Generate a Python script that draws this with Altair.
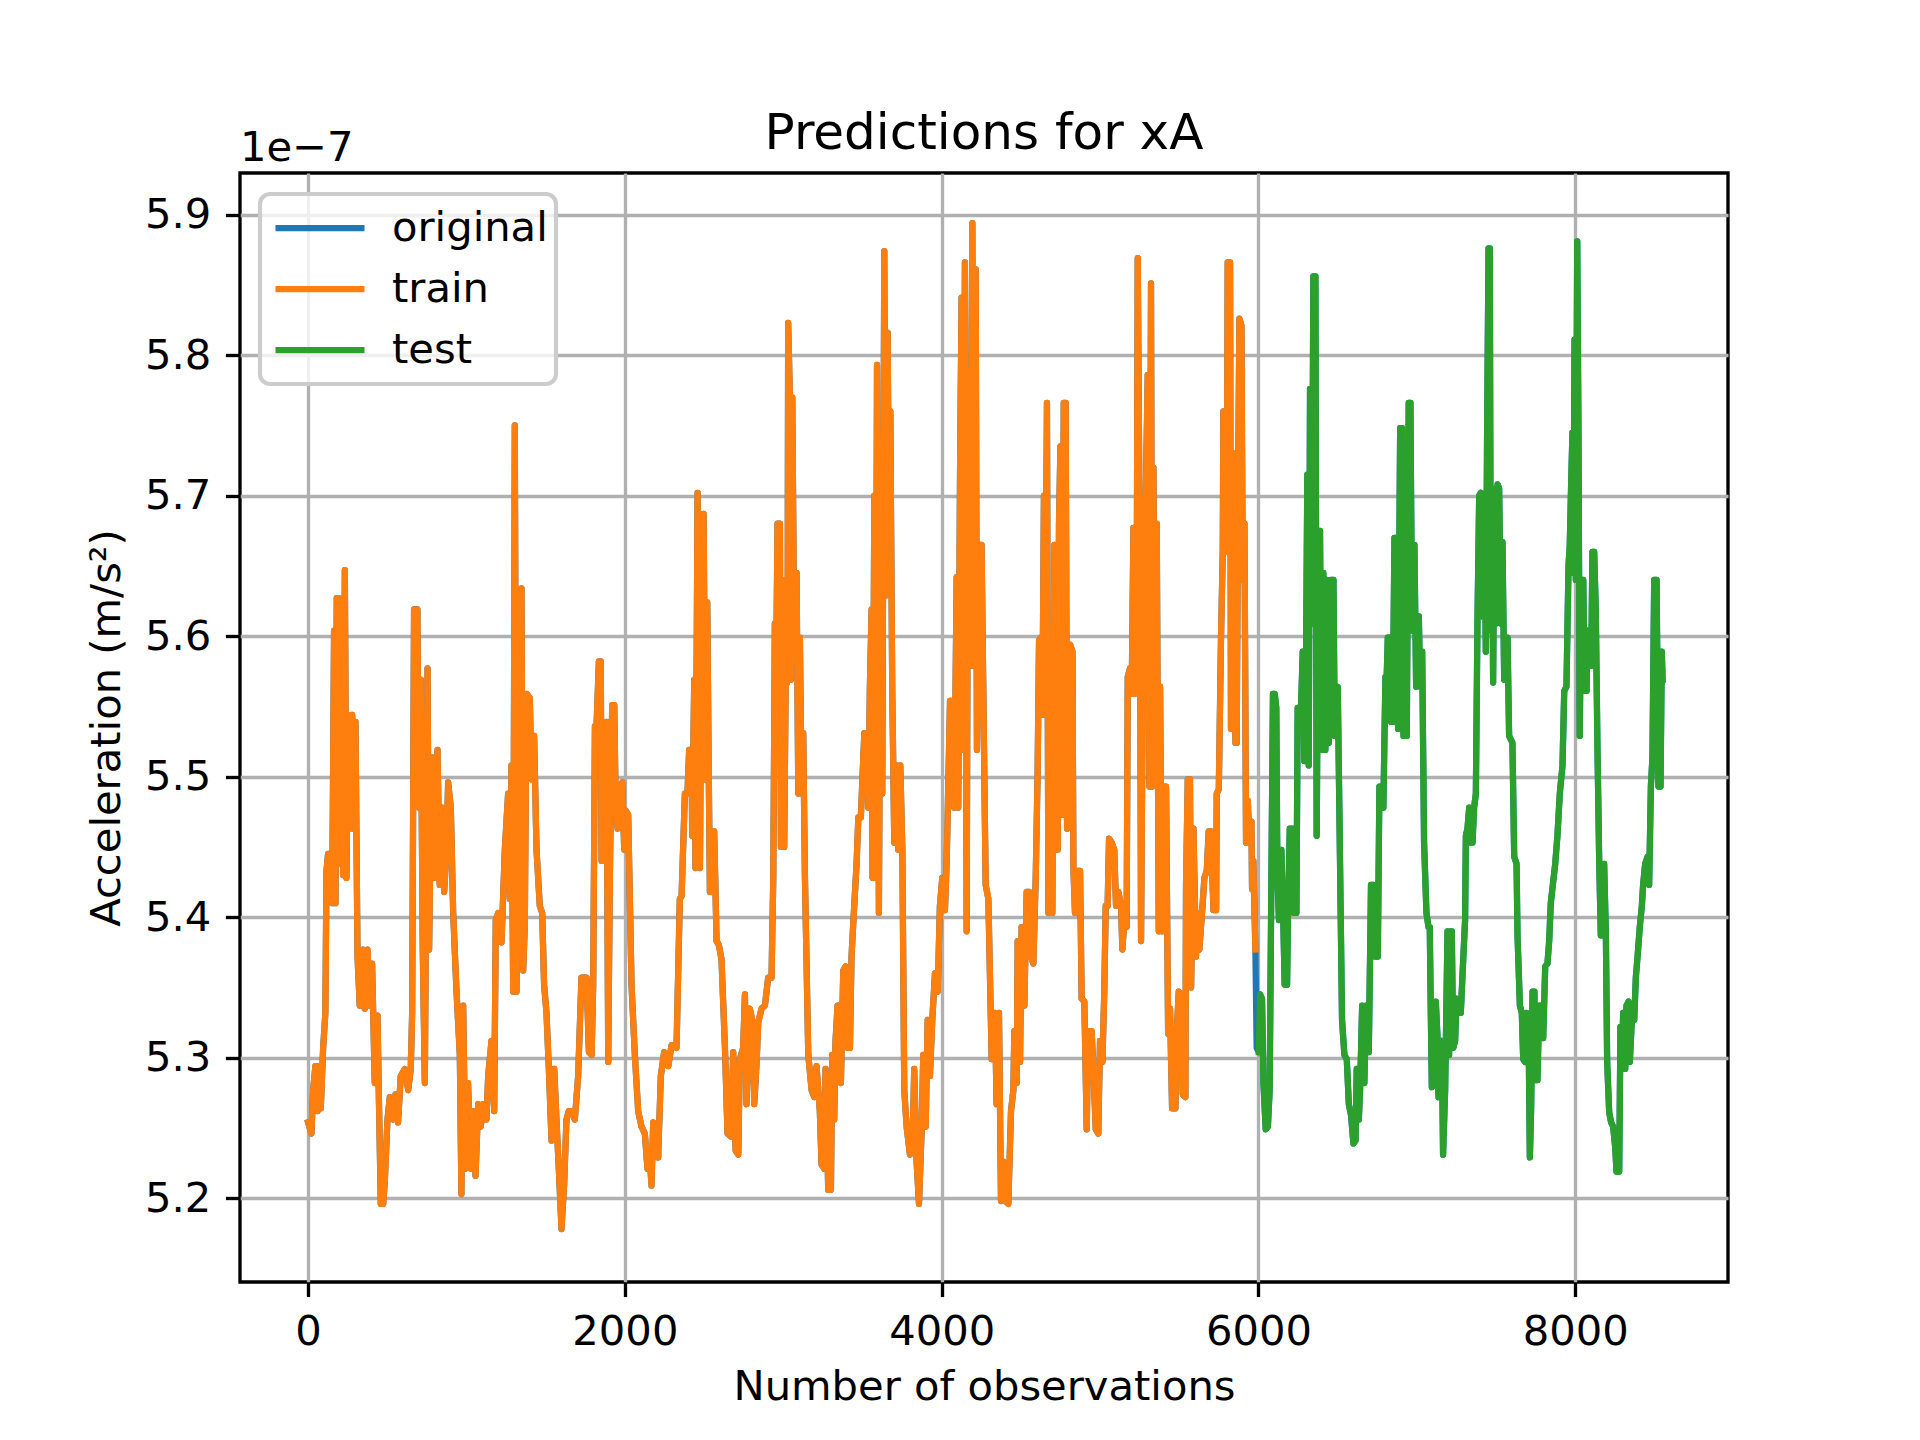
import altair as alt
import pandas as pd

TRAIN_A = [(0,5.254),(21,5.246),(32,5.277),(46,5.294),(59,5.262),(63,5.294),(80,5.264),(95,5.307),(109,5.332),(116,5.433),(126,5.445),(143,5.445),(152,5.410),(164,5.604),(173,5.410),(181,5.627),(194,5.627),(200,5.438),(211,5.549),(221,5.430),(232,5.647),(242,5.428),(253,5.544),(263,5.463),(278,5.544),(290,5.463),(299,5.539),(312,5.372),(326,5.337),(347,5.377),(358,5.335),(375,5.377),(389,5.337),(404,5.367),(421,5.282),(438,5.330),(446,5.277),(459,5.196),(474,5.196),(484,5.211),(501,5.256),(516,5.272),(537,5.256),(552,5.274),(568,5.254),(585,5.287),(610,5.292),(632,5.277),(648,5.292),(657,5.332),(669,5.619),(690,5.619),(699,5.478),(711,5.569),(724,5.377),(737,5.282),(754,5.577),(764,5.377),(779,5.514),(800,5.428),(817,5.519),(831,5.423),(846,5.478),(859,5.418),(874,5.448),(884,5.496),(901,5.478),(916,5.403),(937,5.347),(958,5.302),(968,5.203),(979,5.337),(994,5.221),(1010,5.282),(1027,5.221),(1042,5.262),(1057,5.216),(1074,5.267),(1090,5.251),(1105,5.267),(1126,5.256),(1137,5.287),(1158,5.312),(1175,5.262),(1185,5.398),(1200,5.403),(1221,5.382),(1242,5.448),(1263,5.488),(1274,5.413),(1284,5.508),(1295,5.347),(1305,5.750),(1316,5.347),(1330,5.529),(1347,5.634),(1358,5.362),(1368,5.393),(1379,5.559),(1400,5.556),(1410,5.498),(1427,5.529),(1442,5.448),(1463,5.408),(1478,5.403),(1490,5.352),(1505,5.332),(1520,5.292),(1537,5.241),(1554,5.292),(1568,5.256),(1585,5.216),(1600,5.178),(1617,5.211),(1631,5.256),(1646,5.262),(1663,5.262),(1684,5.256),(1705,5.287),(1726,5.357),(1747,5.357)]

TRAIN_B = [(1758,5.357),(1773,5.304),(1790,5.302),(1800,5.352),(1811,5.536),(1821,5.536),(1836,5.582),(1848,5.582),(1853,5.440),(1863,5.539),(1874,5.440),(1884,5.539),(1895,5.297),(1905,5.428),(1920,5.551),(1933,5.551),(1941,5.488),(1954,5.463),(1968,5.493),(1983,5.496),(1996,5.448),(2004,5.476),(2021,5.473),(2042,5.352),(2063,5.302),(2084,5.262),(2105,5.251),(2126,5.246),(2143,5.221),(2158,5.229),(2168,5.209),(2179,5.254),(2194,5.251),(2210,5.229),(2227,5.287),(2248,5.304),(2274,5.294),(2295,5.309),(2326,5.307),(2347,5.413),(2358,5.415),(2379,5.488),(2395,5.488),(2406,5.519),(2421,5.519),(2425,5.458),(2438,5.569),(2446,5.435),(2459,5.702),(2474,5.435),(2484,5.614),(2497,5.687),(2509,5.498),(2520,5.624),(2530,5.498),(2537,5.418),(2552,5.418),(2564,5.461),(2579,5.383),(2594,5.380),(2610,5.370),(2632,5.307),(2648,5.246),(2669,5.244),(2684,5.304),(2699,5.234),(2716,5.231),(2726,5.299),(2747,5.307),(2758,5.345),(2768,5.267),(2779,5.307),(2789,5.335),(2804,5.327),(2817,5.267),(2832,5.297),(2842,5.325),(2863,5.335),(2884,5.337),(2905,5.357),(2926,5.357),(2937,5.428),(2947,5.609),(2958,5.609),(2964,5.680),(2979,5.680),(2985,5.450),(2996,5.640),(3006,5.450),(3015,5.564),(3027,5.569),(3031,5.823),(3042,5.770),(3048,5.569),(3057,5.770),(3069,5.599),(3084,5.645),(3095,5.488),(3105,5.599),(3116,5.488),(3126,5.531),(3137,5.428),(3158,5.302),(3179,5.277),(3196,5.272),(3210,5.294),(3231,5.262),(3242,5.224),(3259,5.221),(3267,5.292),(3284,5.206),(3301,5.206),(3309,5.302),(3322,5.256),(3330,5.312),(3343,5.337),(3358,5.337),(3364,5.282),(3379,5.362),(3394,5.365),(3406,5.307),(3421,5.307),(3431,5.372),(3448,5.408),(3463,5.438),(3474,5.471),(3490,5.471),(3499,5.496),(3512,5.531)]

TRAIN_C = [(3526,5.528),(3537,5.478),(3547,5.564),(3558,5.619),(3564,5.428),(3575,5.700),(3583,5.428),(3592,5.793),(3604,5.403),(3613,5.629),(3625,5.488),(3638,5.874),(3648,5.629),(3659,5.816),(3669,5.650),(3676,5.760),(3688,5.564),(3701,5.453),(3716,5.508),(3726,5.448),(3739,5.508),(3752,5.448),(3764,5.277),(3779,5.251),(3800,5.231),(3815,5.234),(3827,5.292),(3842,5.226),(3857,5.196),(3874,5.249),(3884,5.302),(3899,5.251),(3912,5.327),(3926,5.287),(3941,5.327),(3958,5.360),(3975,5.347),(3989,5.408),(4004,5.428),(4021,5.405),(4032,5.440),(4053,5.554),(4067,5.554),(4080,5.478),(4095,5.642),(4105,5.478),(4116,5.713),(4126,5.841),(4137,5.519),(4147,5.866),(4158,5.390),(4168,5.788),(4179,5.579),(4194,5.894),(4202,5.579),(4215,5.861),(4223,5.519),(4236,5.665),(4252,5.665),(4265,5.544),(4278,5.423),(4295,5.413),(4316,5.299),(4337,5.332),(4347,5.267),(4362,5.332),(4375,5.198),(4389,5.226),(4404,5.198),(4421,5.196),(4438,5.262),(4453,5.277),(4459,5.319),(4474,5.282),(4480,5.383),(4495,5.297),(4505,5.393),(4522,5.337),(4537,5.418),(4552,5.418),(4564,5.372),(4579,5.367),(4594,5.428),(4606,5.503),(4615,5.597),(4628,5.599),(4636,5.544),(4646,5.700),(4653,5.544),(4665,5.766),(4674,5.403),(4684,5.503),(4699,5.403),(4712,5.665),(4720,5.473),(4733,5.448),(4741,5.680),(4750,5.735),(4762,5.473),(4771,5.766),(4783,5.766),(4792,5.463),(4811,5.594),(4826,5.589),(4832,5.435),(4842,5.403),(4859,5.433),(4874,5.433),(4884,5.342),(4901,5.340),(4916,5.249),(4926,5.319),(4947,5.319),(4958,5.292),(4973,5.249),(4989,5.246),(5000,5.312),(5015,5.297),(5027,5.347),(5036,5.408),(5048,5.408),(5057,5.456),(5074,5.453),(5090,5.448),(5101,5.408),(5116,5.418),(5133,5.408),(5141,5.377),(5154,5.398),(5168,5.393),(5175,5.571),(5189,5.577),(5200,5.559),(5211,5.677),(5221,5.559),(5232,5.634),(5238,5.869),(5253,5.634),(5259,5.383),(5274,5.634)]

TRAIN_D = [(5280,5.634),(5301,5.786),(5312,5.493),(5322,5.851),(5329,5.493),(5337,5.720),(5350,5.498),(5358,5.680),(5371,5.390),(5379,5.564),(5392,5.390),(5400,5.493),(5417,5.493),(5430,5.317),(5442,5.335),(5455,5.264),(5476,5.264),(5484,5.317),(5497,5.347),(5512,5.345),(5522,5.274),(5539,5.272),(5543,5.423),(5554,5.498),(5568,5.498),(5575,5.350),(5590,5.463),(5606,5.372),(5617,5.403),(5627,5.377),(5644,5.403),(5659,5.428),(5674,5.433),(5686,5.461),(5701,5.461),(5716,5.405),(5733,5.405),(5737,5.488),(5750,5.491),(5764,5.599),(5775,5.660),(5779,5.760),(5792,5.760),(5800,5.660),(5806,5.866),(5821,5.866),(5827,5.534),(5842,5.730),(5855,5.524),(5863,5.524),(5872,5.710),(5880,5.826),(5893,5.821),(5901,5.640),(5912,5.680),(5922,5.453),(5933,5.483),(5943,5.453),(5956,5.468),(5960,5.420),(5968,5.440),(5981,5.377)]

GAP = [(5989,5.307)]

TEST_A = [(6002,5.304),(6011,5.345),(6023,5.342),(6032,5.282),(6046,5.249),(6060,5.251),(6071,5.277),(6082,5.428),(6092,5.559),(6103,5.559),(6113,5.549),(6120,5.428),(6130,5.398),(6145,5.448),(6157,5.398),(6166,5.352),(6181,5.352),(6187,5.403),(6198,5.463),(6215,5.463),(6223,5.403),(6240,5.403),(6248,5.549),(6269,5.549),(6280,5.589),(6290,5.511),(6301,5.589),(6309,5.715),(6318,5.508),(6326,5.776),(6337,5.609),(6347,5.856),(6360,5.856),(6368,5.458),(6377,5.619),(6389,5.675),(6398,5.519),(6410,5.645),(6423,5.519),(6432,5.640),(6444,5.524),(6459,5.640),(6474,5.640),(6482,5.529),(6490,5.556),(6501,5.564),(6511,5.478),(6528,5.327),(6543,5.302),(6558,5.299),(6571,5.267),(6585,5.259),(6600,5.239),(6613,5.241),(6621,5.292),(6634,5.256),(6642,5.277),(6655,5.337),(6669,5.282),(6680,5.337),(6697,5.304),(6711,5.423),(6726,5.423),(6739,5.372),(6754,5.372),(6764,5.493),(6781,5.493),(6789,5.478),(6802,5.571),(6810,5.571),(6817,5.599),(6832,5.599),(6838,5.539),(6848,5.539),(6859,5.670),(6874,5.670),(6882,5.534),(6895,5.748),(6907,5.748),(6916,5.529),(6928,5.629),(6937,5.529),(6949,5.766),(6960,5.766),(6970,5.604),(6985,5.665),(6996,5.564),(7013,5.614),(7021,5.564),(7034,5.589)]

TEST_B = [(7046,5.453),(7061,5.403),(7074,5.393),(7082,5.393),(7088,5.337),(7095,5.279),(7109,5.282),(7120,5.340),(7130,5.317),(7137,5.272),(7145,5.312),(7158,5.312),(7166,5.231),(7179,5.277),(7187,5.337),(7194,5.390),(7204,5.302),(7211,5.390),(7221,5.390),(7230,5.307),(7242,5.312),(7251,5.342),(7263,5.332),(7278,5.332),(7288,5.357),(7305,5.398),(7310,5.458),(7320,5.463),(7331,5.478),(7341,5.453),(7352,5.453),(7362,5.478),(7373,5.488),(7383,5.609),(7394,5.700),(7404,5.702),(7415,5.614),(7425,5.700),(7436,5.589),(7444,5.745),(7453,5.876),(7461,5.876),(7467,5.604),(7474,5.705),(7482,5.567),(7491,5.705),(7499,5.609),(7510,5.708),(7520,5.705),(7531,5.609),(7541,5.667),(7552,5.569),(7562,5.599),(7573,5.599),(7583,5.529),(7604,5.524),(7615,5.443),(7630,5.438),(7636,5.387),(7651,5.337),(7663,5.332),(7672,5.299),(7684,5.297),(7693,5.332),(7705,5.327),(7714,5.229),(7722,5.264),(7731,5.347),(7743,5.347),(7747,5.284),(7762,5.284),(7773,5.337),(7790,5.337),(7798,5.314),(7811,5.365),(7825,5.367),(7836,5.383),(7846,5.410),(7861,5.425),(7874,5.438),(7888,5.458),(7903,5.488),(7920,5.508),(7931,5.561),(7945,5.564),(7958,5.650),(7966,5.665),(7975,5.710),(7983,5.745),(7989,5.645),(7996,5.811),(8004,5.640),(8013,5.881),(8021,5.743),(8029,5.529),(8038,5.640),(8051,5.640),(8061,5.561),(8072,5.561),(8078,5.604),(8088,5.579),(8101,5.579),(8109,5.660),(8120,5.660),(8130,5.619),(8141,5.519),(8152,5.438),(8162,5.387),(8173,5.387),(8183,5.438),(8194,5.387),(8202,5.297),(8215,5.261),(8227,5.254),(8240,5.251),(8253,5.236),(8261,5.219),(8278,5.219),(8286,5.322),(8295,5.292),(8303,5.332),(8316,5.292),(8324,5.337),(8337,5.340),(8345,5.297),(8358,5.327),(8373,5.327),(8383,5.357),(8394,5.372),(8408,5.393),(8421,5.408),(8429,5.423),(8442,5.438),(8457,5.443),(8467,5.423),(8478,5.493),(8488,5.514),(8499,5.640),(8514,5.640),(8526,5.493),(8539,5.493),(8547,5.589),(8552,5.569)]

SERIES = ["original", "train", "test"]
COLORS = ["#1f77b4", "#ff7f0e", "#2ca02c"]
X_TICKS = [0, 2000, 4000, 6000, 8000]
Y_TICKS = [5.2, 5.3, 5.4, 5.5, 5.6, 5.7, 5.8, 5.9]

train = TRAIN_A + TRAIN_B + TRAIN_C + TRAIN_D
test = TEST_A + TEST_B
original = train + GAP + test

rows = []
for name, pts in [("original", original), ("train", train), ("test", test)]:
    for x, y in pts:
        rows.append({"obs": x, "acc": y, "series": name})
df = pd.DataFrame(rows)

FONT = "DejaVu Sans"
PX = 300 / 72  # matplotlib points at 300 dpi

x_enc = alt.X("obs:Q", title="Number of observations",
              scale=alt.Scale(domain=[-430, 8965], nice=False, zero=False),
              axis=alt.Axis(values=X_TICKS, format="d"))
y_enc = alt.Y("acc:Q", title="Acceleration (m/s²)",
              scale=alt.Scale(domain=[5.1404, 5.9296], nice=False, zero=False),
              axis=alt.Axis(values=Y_TICKS, format=".1f"))
color_enc = alt.Color("series:N",
                      scale=alt.Scale(domain=SERIES, range=COLORS),
                      legend=alt.Legend(title=None, orient="none", legendX=20, legendY=21,
                                        direction="vertical", symbolType="stroke"))

def layer(name):
    return (alt.Chart(df)
            .transform_filter(alt.datum.series == name)
            .mark_line(strokeWidth=1.5 * PX, strokeJoin="round", strokeCap="square")
            .encode(x=x_enc, y=y_enc, color=color_enc))

offset_text = (alt.Chart(pd.DataFrame({"t": ["1e\u22127"]}))
               .mark_text(align="left", baseline="alphabetic", fontSize=10 * PX,
                          font=FONT, color="black")
               .encode(x=alt.value(0), y=alt.value(-12.3), text="t:N"))

chart = (alt.layer(layer("original"), layer("train"), layer("test"), offset_text)
         .properties(width=1488, height=1109,
                     title=alt.TitleParams("Predictions for xA", fontSize=12 * PX, font=FONT,
                                           fontWeight="normal", color="black", anchor="middle",
                                           baseline="alphabetic", offset=25, dy=96),
                     autosize=alt.AutoSizeParams(type="none"),
                     padding={"left": 232, "top": 165, "right": 170, "bottom": 130})
         .configure(font=FONT)
         .configure_view(stroke="black", strokeWidth=0.8 * PX)
         .configure_axis(grid=True, gridColor="#b0b0b0", gridWidth=0.8 * PX,
                         domain=False, tickColor="black", tickWidth=0.8 * PX,
                         tickSize=3.5 * PX, labelPadding=3.5 * PX,
                         labelFont=FONT, labelFontSize=10 * PX, labelColor="black",
                         titleFont=FONT, titleFontSize=10 * PX, titleFontWeight="normal",
                         titleColor="black")
         .configure_axisX(titlePadding=14)
         .configure_axisY(titlePadding=16)
         .configure_legend(symbolStrokeWidth=1.5 * PX, symbolSize=7921, symbolOffset=4,
                           clipHeight=52, rowPadding=9, padding=8,
                           labelFont=FONT, labelFontSize=10 * PX, labelColor="black",
                           labelOffset=24,
                           fillColor="rgba(255,255,255,0.8)", strokeColor="#cccccc",
                           strokeWidth=1.0 * PX, cornerRadius=10))

chart.save("out.html", embed_options={"renderer": "svg", "actions": False})
